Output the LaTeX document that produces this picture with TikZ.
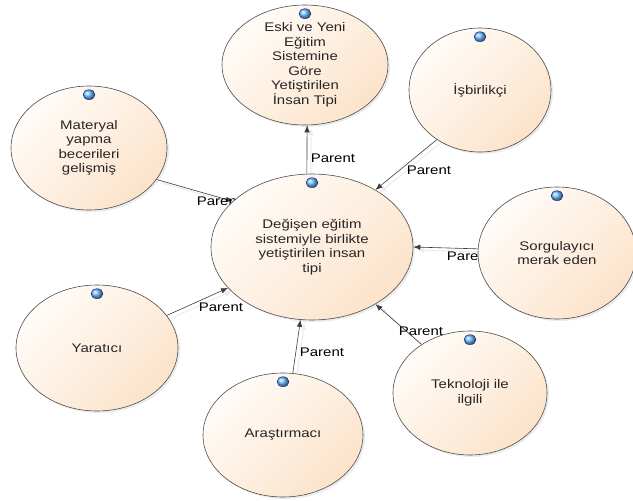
\documentclass[tikz,border=0pt]{standalone}
\usepackage{fontspec}
\setmainfont{Liberation Sans}[FakeStretch=1.2]
\usetikzlibrary{shapes.geometric,arrows.meta,shadows,backgrounds}
\definecolor{peachlight}{HTML}{FFFCF8}
\definecolor{peachdark}{HTML}{FCE3CA}
\definecolor{linegray}{HTML}{3C3C3C}
\definecolor{bulbblue}{RGB}{110,195,255}
\tikzset{
  bubble/.style={ellipse, draw=black!70, line width=0.6pt,
    top color=peachlight, bottom color=peachdark, shading angle=45,
    drop shadow={opacity=0.15, shadow xshift=2pt, shadow yshift=-2pt},
    inner sep=0pt, align=center, text=black!85,
    font=\fontsize{12.5}{14.5}\selectfont},
  parentarrow/.style={draw=linegray, line width=0.6pt, -{Latex[length=7pt,width=5.5pt]},
    preaction={draw=black!8, line width=1pt, transform canvas={shift={(4pt,-3pt)}}}},
  lbl/.style={inner sep=0pt, font=\fontsize{12.5}{14.5}\selectfont},
  bulb/.style={ball color=bulbblue, draw=blue!50!black, line width=0.3pt}
}
\begin{document}
\begin{tikzpicture}[x=1pt,y=-1pt]
\useasboundingbox (0,0) rectangle (633,501);
% bubbles
\node[bubble, minimum width=166pt, minimum height=120pt] (top) at (305,65)
  {Eski ve Yeni\\Eğitim\\Sistemine\\Göre\\Yetiştirilen\\İnsan Tipi};
\node[bubble, minimum width=202pt, minimum height=146pt] (cen) at (312,247)
  {Değişen eğitim\\sistemiyle birlikte\\yetiştirilen insan\\tipi};
\node[bubble, minimum width=142pt, minimum height=124pt] (isb) at (480,90) {İşbirlikçi};
\node[bubble, minimum width=158pt, minimum height=132pt] (sor) at (557,253) {Sorgulayıcı\\merak eden};
\node[bubble, minimum width=154pt, minimum height=124pt] (tek) at (470,393) {Teknoloji ile\\ilgili};
\node[bubble, minimum width=156pt, minimum height=124pt] (mat) at (89,148) {Materyal\\yapma\\becerileri\\gelişmiş};
\node[bubble, minimum width=162pt, minimum height=126pt] (yar) at (97,348) {Yaratıcı};
\node[bubble, minimum width=160pt, minimum height=124pt] (ara) at (283,435) {Araştırmacı};
\foreach \n in {top,cen,isb,sor,tek,mat,yar,ara}
  \shadedraw[bulb] ([yshift=-9pt]\n.north) ellipse (6pt and 5pt);
% connectors
\begin{pgfonlayer}{background}
\draw[parentarrow] (cen.94) -- (top.-88);
\draw[parentarrow] (isb.-131) -- (cen.42);
\draw[parentarrow] (sor.177) -- (cen.0);
\draw[parentarrow] (tek.135) -- (cen.-42);
\draw[parentarrow] (ara.81) -- (cen.-99);
\draw[parentarrow] (yar.25) -- (cen.-154);
\draw[parentarrow] (mat.-25) -- (cen.150);
\node[lbl] (ltop) at (333,158) {Parent};
\node[lbl] (lisb) at (429,170) {Parent};
\node[lbl] (lsor) at (469,256) {Parent};
\node[lbl] (ltek) at (421,331) {Parent};
\node[lbl] (lara) at (322,352) {Parent};
\node[lbl] (lyar) at (221,307) {Parent};
\node[lbl] (lmat) at (219,201) {Parent};
\end{pgfonlayer}
\end{tikzpicture}
\end{document}
